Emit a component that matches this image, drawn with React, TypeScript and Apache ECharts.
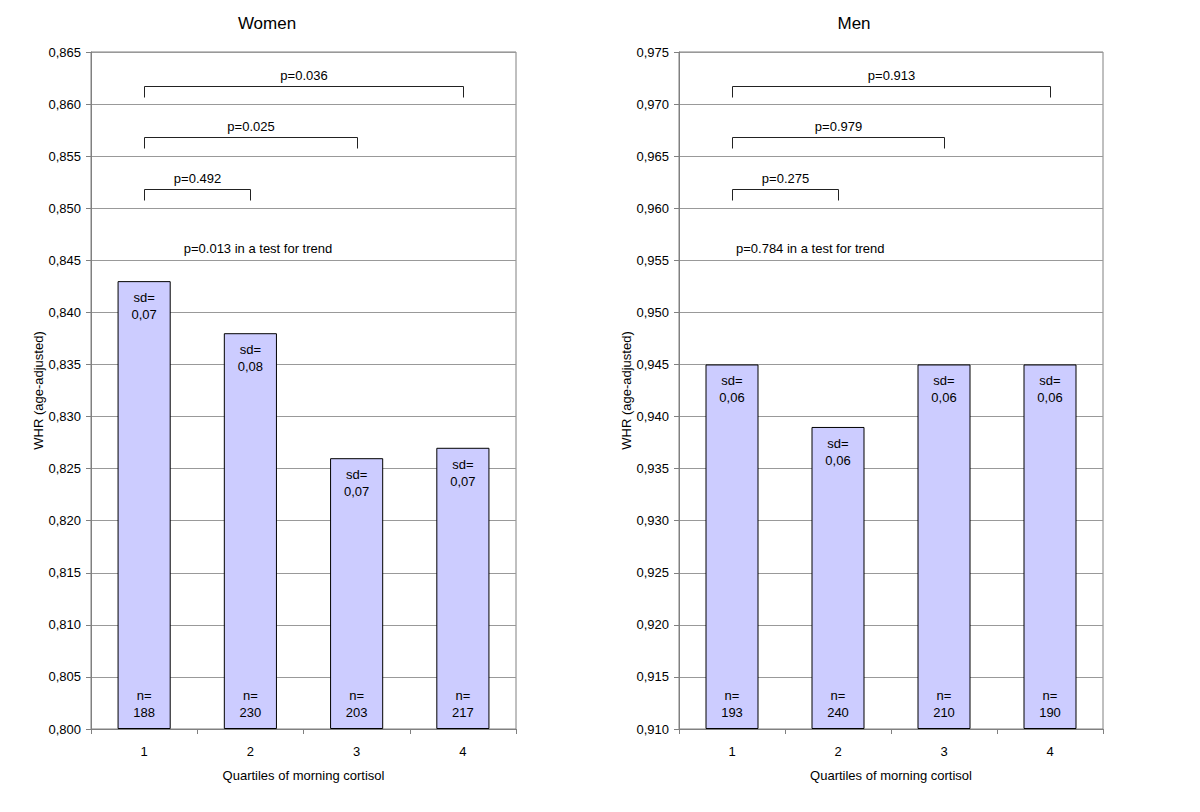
import React, { useEffect, useRef } from "react";
import * as echarts from "echarts";

const categories = ["1", "2", "3", "4"];

const womenWHR = [0.843, 0.838, 0.826, 0.827];
const womenSD = ["0,07", "0,08", "0,07", "0,07"];
const womenN = [188, 230, 203, 217];

const menWHR = [0.945, 0.939, 0.945, 0.945];
const menSD = ["0,06", "0,06", "0,06", "0,06"];
const menN = [193, 240, 210, 190];

// brackets: [fromCategoryIndex, toCategoryIndex, topValue, endValue]
const womenBrackets = [
  [0, 3, 0.8617, 0.8607],
  [0, 2, 0.8568, 0.8558],
  [0, 1, 0.8518, 0.8508],
];
const womenBracketLabels = ["p=0.036", "p=0.025", "p=0.492"];
const menBrackets = [
  [0, 3, 0.9717, 0.9707],
  [0, 2, 0.9668, 0.9658],
  [0, 1, 0.9618, 0.9608],
];
const menBracketLabels = ["p=0.913", "p=0.979", "p=0.275"];

const womenTrend = "p=0.013 in a test for trend";
const menTrend = "p=0.784 in a test for trend";

const FONT = "'Liberation Sans', Arial, Helvetica, sans-serif";
const AXIS_GREY = "#808080";

function fmt(v: number) {
  return v.toFixed(3).replace(".", ",");
}

export default function App() {
  const ref = useRef<HTMLDivElement>(null);

  useEffect(() => {
    document.body.style.margin = "0";
    const chart = echarts.init(ref.current!, null, { renderer: "svg" });

    const grids = [
      { left: 91, right: 684, top: 52, bottom: 83 },
      { left: 679, right: 97, top: 52, bottom: 83 },
    ];

    const xAxis = [0, 1].map((i) => ({
      type: "category",
      gridIndex: i,
      data: categories,
      boundaryGap: true,
      name: "Quartiles of morning cortisol",
      nameLocation: "middle",
      nameGap: 40,
      nameTextStyle: { fontFamily: FONT, fontSize: 13, color: "#000" },
      axisLine: { lineStyle: { color: AXIS_GREY, width: 1 } },
      axisTick: { show: true, length: 5, alignWithLabel: false, lineStyle: { color: AXIS_GREY } },
      axisLabel: { fontFamily: FONT, fontSize: 13, color: "#000", margin: 16 },
      splitLine: { show: false },
    }));

    const yAxis = [
      { min: 0.8, max: 0.865, startValue: 0.8 },
      { min: 0.91, max: 0.975, startValue: 0.91 },
    ].map((r, i) => ({
      type: "value",
      gridIndex: i,
      min: r.min,
      max: r.max,
      startValue: r.startValue,
      interval: 0.005,
      name: "WHR (age-adjusted)",
      nameLocation: "middle",
      nameGap: 43,
      nameTextStyle: { fontFamily: FONT, fontSize: 13, color: "#000" },
      axisLine: { show: true, lineStyle: { color: AXIS_GREY, width: 1 } },
      axisTick: { show: true, length: 5, lineStyle: { color: AXIS_GREY } },
      axisLabel: {
        fontFamily: FONT,
        fontSize: 13,
        color: "#000",
        margin: 10,
        formatter: (v: number) => fmt(v),
      },
      splitLine: { show: true, lineStyle: { color: "#999999", width: 1 } },
    }));

    const makeBars = (idx: number, values: number[], sd: string[], n: number[]) => [
      {
        type: "bar",
        xAxisIndex: idx,
        yAxisIndex: idx,
        data: values,
        barWidth: "50%",
        itemStyle: { color: "#CCCCFF", borderColor: "#000", borderWidth: 1 },
        label: {
          show: true,
          position: "insideTop",
          distance: 8,
          fontFamily: FONT,
          fontSize: 13,
          lineHeight: 17,
          color: "#000",
          formatter: (p: any) => "sd=\n" + sd[p.dataIndex],
        },
        z: 2,
      },
      {
        type: "bar",
        xAxisIndex: idx,
        yAxisIndex: idx,
        data: values,
        barWidth: "50%",
        barGap: "-100%",
        itemStyle: { color: "transparent", borderWidth: 0 },
        label: {
          show: true,
          position: "insideBottom",
          distance: 8,
          fontFamily: FONT,
          fontSize: 13,
          lineHeight: 17,
          color: "#000",
          formatter: (p: any) => "n=\n" + n[p.dataIndex],
        },
        z: 3,
      },
    ];

    const makeBrackets = (idx: number, brackets: number[][], labels: string[]) => ({
      type: "custom",
      xAxisIndex: idx,
      yAxisIndex: idx,
      data: brackets,
      encode: { x: [0, 1], y: [2, 3] },
      clip: false,
      z: 5,
      renderItem: (params: any, api: any) => {
        const a = api.coord([api.value(0), api.value(2)]);
        const b = api.coord([api.value(1), api.value(2)]);
        const e = api.coord([api.value(0), api.value(3)]);
        const yTop = Math.round(a[1]) + 0.5;
        const yEnd = Math.round(e[1]) + 0.5;
        const x1 = Math.round(a[0]) + 0.5;
        const x2 = Math.round(b[0]) + 0.5;
        return {
          type: "group",
          children: [
            {
              type: "polyline",
              shape: { points: [[x1, yEnd], [x1, yTop], [x2, yTop], [x2, yEnd]] },
              style: { stroke: "#222", lineWidth: 1, fill: "none" },
            },
            {
              type: "text",
              x: (x1 + x2) / 2,
              y: yTop - 5,
              style: {
                text: labels[params.dataIndex],
                font: "13px " + FONT,
                fill: "#000",
                align: "center",
                verticalAlign: "bottom",
              },
            },
          ],
        };
      },
    });

    const text = (t: string, x: number, y: number, size: number, align: string) => ({
      type: "text",
      x,
      y,
      style: {
        text: t,
        font: size + "px " + FONT,
        fill: "#000",
        align,
        verticalAlign: "middle",
      },
    });

    chart.setOption({
      animation: false,
      backgroundColor: "#fff",
      grid: grids.map((g) => ({ ...g, show: true, borderColor: AXIS_GREY, borderWidth: 1, backgroundColor: "transparent" })),
      xAxis,
      yAxis,
      series: [
        ...makeBars(0, womenWHR, womenSD, womenN),
        ...makeBars(1, menWHR, menSD, menN),
        makeBrackets(0, womenBrackets, womenBracketLabels),
        makeBrackets(1, menBrackets, menBracketLabels),
      ],
      graphic: [
        text("Women", 267, 23, 17, "center"),
        text("Men", 854, 23, 17, "center"),
        text(womenTrend, 258, 248, 13, "center"),
        text(menTrend, 736, 248, 13, "left"),
      ],
    });

    return () => chart.dispose();
  }, []);

  return <div ref={ref} style={{ width: 1200, height: 812 }} />;
}
